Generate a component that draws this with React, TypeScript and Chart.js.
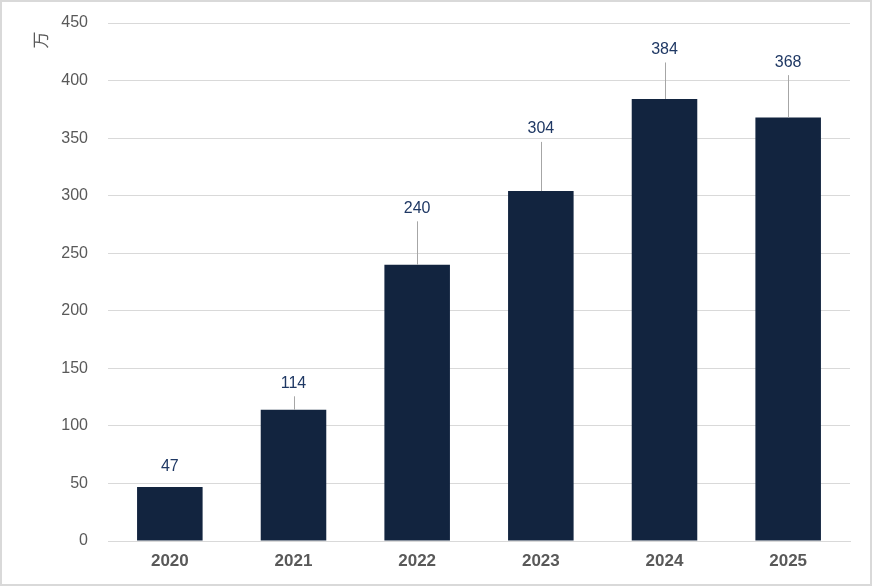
import React, { useEffect, useRef } from "react";
import { Chart, registerables } from "chart.js";

Chart.register(...registerables);

const categories = ["2020", "2021", "2022", "2023", "2024", "2025"];
const values = [47, 114, 240, 304, 384, 368];
// where each data label sits, in axis units
const labelAt = [65, 137, 289, 358, 427, 416];
const yTitle = "万";

const labelPlugin = {
  id: "leaderLabels",
  afterDatasetsDraw(chart: any) {
    const ctx = chart.ctx;
    const meta = chart.getDatasetMeta(0);
    const yScale = chart.scales.y;
    ctx.save();
    ctx.font = "16px 'Liberation Sans', Arial, sans-serif";
    ctx.textAlign = "center";
    ctx.textBaseline = "middle";
    meta.data.forEach((bar: any, i: number) => {
      const ly = yScale.getPixelForValue(labelAt[i]);
      const lineTop = ly + 13;
      if (bar.y - lineTop > 11) {
        ctx.strokeStyle = "#a6a6a6";
        ctx.lineWidth = 1;
        ctx.beginPath();
        ctx.moveTo(Math.round(bar.x) + 0.5, lineTop);
        ctx.lineTo(Math.round(bar.x) + 0.5, bar.y);
        ctx.stroke();
      }
      ctx.fillStyle = "#1F3864";
      ctx.fillText(String(values[i]), bar.x, ly);
    });
    // rotated axis title
    const a = chart.chartArea;
    ctx.translate(a.left - 67, a.top + 17);
    ctx.rotate(-Math.PI / 2);
    ctx.fillStyle = "#595959";
    ctx.font = "17px 'Noto Sans CJK SC', sans-serif";
    ctx.fillText(yTitle, 0, 0);
    ctx.restore();
  },
};

export default function App() {
  const ref = useRef<HTMLCanvasElement>(null);
  useEffect(() => {
    document.body.style.margin = "0";
    const chart = new Chart(ref.current!, {
      type: "bar",
      data: {
        labels: categories,
        datasets: [
          {
            data: values,
            backgroundColor: "#12243F",
            barPercentage: 0.53,
            categoryPercentage: 1,
          },
        ],
      },
      options: {
        animation: false,
        responsive: true,
        maintainAspectRatio: false,
        layout: { padding: { top: 21, right: 20, left: 0, bottom: 0 } },
        plugins: { legend: { display: false }, tooltip: { enabled: false } },
        scales: {
          x: {
            grid: { display: false, drawTicks: false },
            border: { color: "#d9d9d9", width: 1 },
            ticks: {
              color: "#595959",
              font: { family: "'Liberation Sans', Arial, sans-serif", size: 17, weight: "bold" },
              padding: 10,
            },
            afterFit: (s: any) => {
              s.height = 43;
              s.paddingLeft = 0;
              s.paddingRight = 0;
            },
          },
          y: {
            min: 0,
            max: 450,
            ticks: {
              stepSize: 50,
              color: "#595959",
              font: { family: "'Liberation Sans', Arial, sans-serif", size: 16 },
              padding: 20,
            },
            grid: { color: "#d9d9d9", drawTicks: false },
            border: { display: false },
            afterFit: (s: any) => {
              s.width = 106;
              s.paddingTop = 0;
              s.paddingBottom = 0;
            },
          },
        },
      },
      plugins: [labelPlugin],
    } as any);
    return () => chart.destroy();
  }, []);
  return (
    <div
      style={{
        width: 872,
        height: 586,
        border: "2px solid #d9d9d9",
        boxSizing: "border-box",
        position: "relative",
        background: "#fff",
      }}
    >
      <canvas ref={ref} />
    </div>
  );
}
